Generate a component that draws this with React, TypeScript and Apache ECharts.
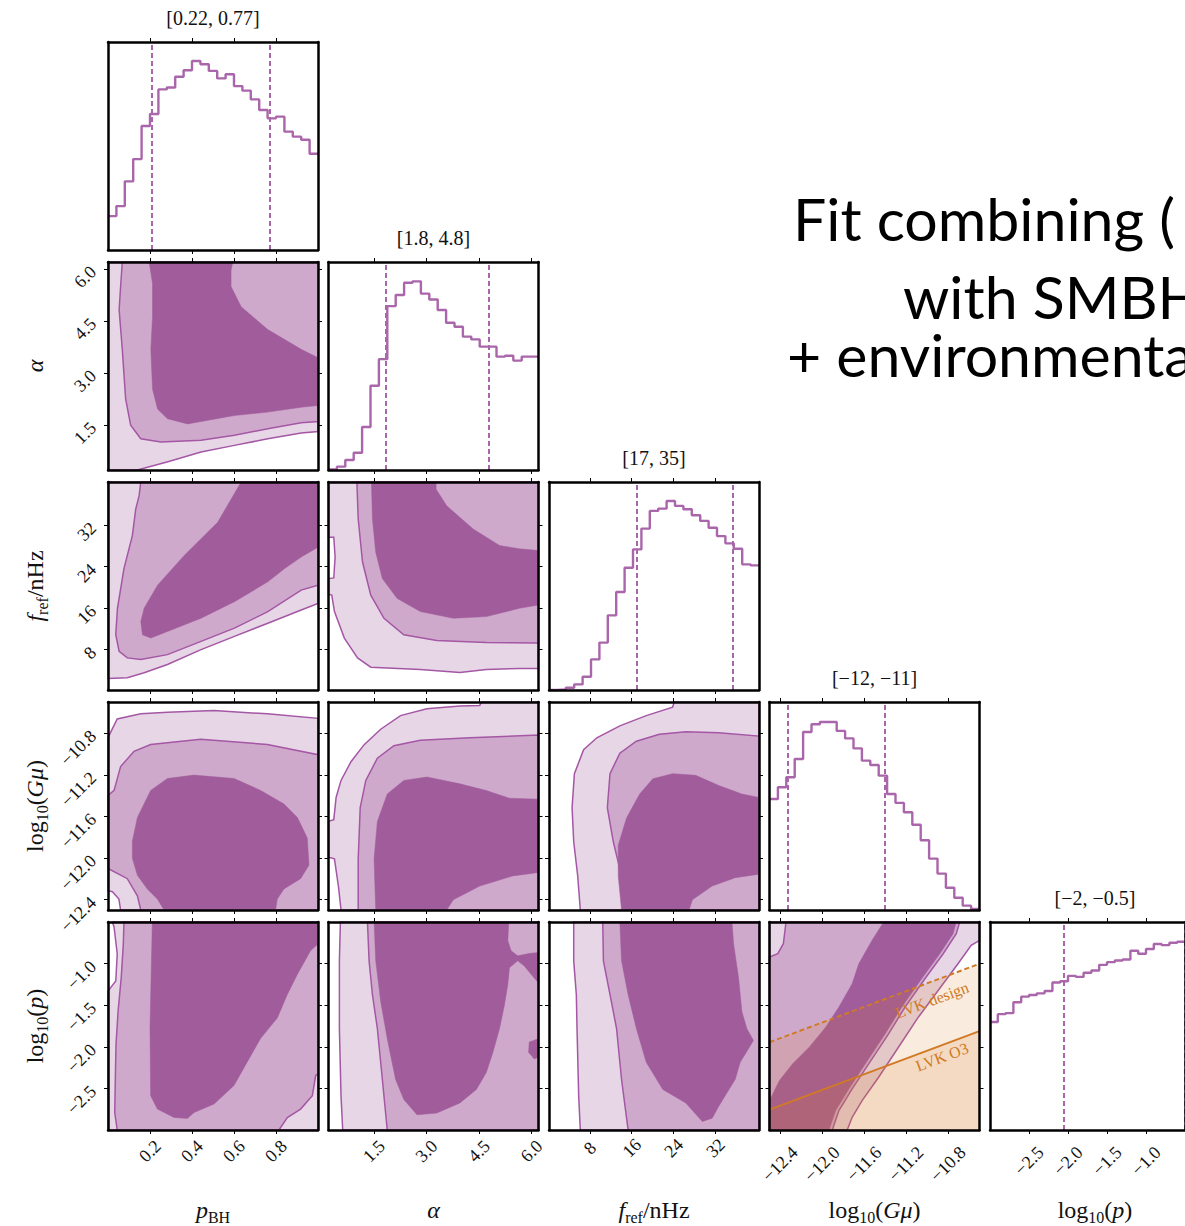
import React, { useEffect, useRef } from 'react';
import * as echarts from 'echarts';

// ---------- variables (columns / rows of the corner plot) ----------
const varMin = [0, 0.2, 0.2, -12.5, -3];
const varMax = [1, 6.2, 40.3, -10.5, -0.5];
const varTicks = [
  [0.2, 0.4, 0.6, 0.8],
  [1.5, 3.0, 4.5, 6.0],
  [8, 16, 24, 32],
  [-12.4, -12.0, -11.6, -11.2, -10.8],
  [-2.5, -2.0, -1.5, -1.0],
];
const varDecimals = [1, 1, 0, 1, 1];
const N_BINS = 25;

// ---------- 1-D marginal histograms (relative heights) ----------
const histPBH = [0.163, 0.211, 0.33, 0.437, 0.596, 0.654, 0.772, 0.781, 0.833, 0.864, 0.909, 0.893, 0.861, 0.825, 0.845, 0.788, 0.766, 0.724, 0.673, 0.633, 0.641, 0.569, 0.545, 0.53, 0.463];
const histAlpha = [0.003, 0.016, 0.048, 0.083, 0.207, 0.405, 0.533, 0.788, 0.841, 0.9, 0.907, 0.848, 0.82, 0.769, 0.708, 0.689, 0.641, 0.628, 0.593, 0.593, 0.545, 0.549, 0.526, 0.545, 0.545];
const histFref = [0, 0.003, 0.011, 0.027, 0.064, 0.147, 0.228, 0.359, 0.471, 0.588, 0.676, 0.776, 0.861, 0.872, 0.909, 0.885, 0.869, 0.84, 0.813, 0.78, 0.74, 0.705, 0.679, 0.604, 0.599];
const histGmu = [0.534, 0.59, 0.638, 0.726, 0.856, 0.893, 0.904, 0.904, 0.861, 0.825, 0.777, 0.718, 0.697, 0.646, 0.558, 0.515, 0.47, 0.41, 0.335, 0.247, 0.175, 0.107, 0.059, 0.021, 0.005];
const histLogp = [0.519, 0.557, 0.562, 0.614, 0.641, 0.649, 0.657, 0.668, 0.709, 0.715, 0.741, 0.736, 0.756, 0.767, 0.794, 0.807, 0.815, 0.82, 0.862, 0.847, 0.87, 0.894, 0.889, 0.9, 0.905];
const hists = [histPBH, histAlpha, histFref, histGmu, histLogp];

const quantiles = [[0.215, 0.765], [1.84, 4.78], [16.9, 35.2], [-12.33, -11.4], [-2.06, -0.5]];
const histTitles = ['[0.22, 0.77]', '[1.8, 4.8]', '[17, 35]', '[\u221212, \u221211]', '[\u22122, \u22120.5]'];

// ---------- 2-D credible regions (polygons in data units: [x, y]) ----------
// row 1 (alpha) vs col 0 (pBH)
const c10Light = [[0.14, 0.2], [0.285, 0.44], [0.443, 0.72], [0.602, 0.91], [0.761, 1.1], [0.92, 1.27], [1, 1.31], [1, 6.2], [0, 6.2], [0, 0.2]];
const c10Mid = [[0.068, 6.2], [0.061, 5.58], [0.053, 4.82], [0.068, 3.68], [0.084, 2.25], [0.108, 1.49], [0.156, 1.1], [0.252, 1.01], [0.443, 1.06], [0.602, 1.2], [0.761, 1.39], [0.92, 1.56], [1, 1.6], [1, 6.2]];
const c10Dark = [[0.196, 6.2], [0.212, 5.58], [0.212, 4.63], [0.204, 3.68], [0.212, 2.53], [0.236, 1.96], [0.283, 1.68], [0.379, 1.53], [0.602, 1.77], [0.761, 1.87], [0.92, 2.01], [1, 2.06], [1, 3.44], [0.92, 3.68], [0.761, 4.25], [0.634, 4.91], [0.586, 5.49], [0.586, 5.96], [0.594, 6.2]];
// row 2 (f_ref) vs col 0 (pBH)
const c20Light = [[0, 2.43], [0.092, 2.56], [0.172, 3.52], [0.283, 5.11], [0.443, 7.98], [0.602, 10.53], [0.761, 13.08], [0.92, 15.63], [1, 16.9], [1, 40.3], [0, 40.3]];
const c20Mid = [[0.156, 40.3], [0.148, 37.62], [0.132, 35.07], [0.116, 29.97], [0.076, 23.6], [0.045, 15.95], [0.037, 10.85], [0.053, 7.66], [0.092, 6.39], [0.156, 6.07], [0.283, 7.02], [0.443, 9.57], [0.602, 12.12], [0.761, 15.31], [0.92, 19.45], [1, 20.41], [1, 40.3]];
const c20Dark = [[0.634, 40.3], [1, 40.3], [1, 27.74], [0.92, 25.83], [0.841, 23.6], [0.761, 21.05], [0.602, 17.22], [0.443, 14.03], [0.283, 11.48], [0.204, 10.21], [0.164, 10.85], [0.156, 13.4], [0.172, 15.95], [0.236, 20.41], [0.363, 26.15], [0.522, 32.52]];
// row 3 (log Gmu) vs col 0 (pBH)
const c30Light = [[0, -10.843], [0.044, -10.663], [0.156, -10.614], [0.283, -10.598], [0.505, -10.582], [0.759, -10.614], [1, -10.657], [1, -12.5], [0.06, -12.5], [0.052, -12.395], [0.021, -12.324], [0, -12.314]];
const c30Mid = [[0, -11.399], [0.029, -11.35], [0.06, -11.121], [0.124, -10.974], [0.203, -10.908], [0.441, -10.859], [0.759, -10.908], [1, -11.007], [1, -12.5], [0.156, -12.5], [0.14, -12.363], [0.092, -12.199], [0, -12.101]];
const c30Dark = [[0.203, -11.35], [0.283, -11.235], [0.41, -11.203], [0.6, -11.235], [0.727, -11.35], [0.838, -11.48], [0.902, -11.611], [0.949, -11.807], [0.957, -12.069], [0.917, -12.199], [0.838, -12.297], [0.806, -12.395], [0.798, -12.5], [0.267, -12.5], [0.235, -12.395], [0.187, -12.297], [0.14, -12.167], [0.116, -12.003], [0.116, -11.84], [0.14, -11.611]];
// row 4 (log p) vs col 0 (pBH)
const c40Light = [[0, -1.331], [0.037, -1.209], [0.044, -0.885], [0.029, -0.561], [0.021, -0.5], [1, -0.5], [1, -3], [0, -3]];
const c40Mid = [[0.076, -0.5], [0.073, -0.763], [0.063, -1.169], [0.048, -1.574], [0.038, -1.979], [0.035, -2.384], [0.032, -2.79], [0.044, -3], [0.814, -3], [0.854, -2.85], [0.917, -2.749], [0.973, -2.587], [0.989, -2.344], [1, -2.323], [1, -0.5]];
const c40Dark = [[0.211, -0.5], [0.2, -1.776], [0.203, -2.587], [0.235, -2.749], [0.314, -2.85], [0.378, -2.862], [0.41, -2.79], [0.505, -2.688], [0.6, -2.465], [0.663, -2.182], [0.727, -1.898], [0.806, -1.655], [0.854, -1.371], [0.902, -1.128], [0.965, -0.844], [1, -0.763], [1, -0.5]];
// row 2 (f_ref) vs col 1 (alpha)
const c21Light = [[0.2, 40.3], [6.2, 40.3], [6.2, 4.35], [5.653, 4.35], [4.709, 4.15], [3.955, 3.58], [2.823, 4.15], [1.408, 4.6], [1.03, 6.38], [0.653, 10.21], [0.37, 15.31], [0.294, 18.49], [0.2, 18.62], [0.2, 21.68], [0.351, 21.81], [0.389, 25.83], [0.351, 29.65], [0.2, 29.65]];
const c21Mid = [[1.011, 40.3], [1.049, 33.16], [1.172, 24.87], [1.408, 18.49], [1.785, 14.03], [2.351, 10.85], [3.294, 9.76], [4.709, 9.38], [6.2, 9.25], [6.2, 40.3]];
const c21Dark = [[1.427, 40.3], [1.455, 33.16], [1.549, 26.78], [1.738, 21.68], [2.162, 17.86], [2.823, 15.31], [3.766, 14.03], [4.709, 14.35], [5.653, 15.95], [6.2, 16.59], [6.2, 27.1], [5.653, 27.42], [5.087, 28.06], [4.332, 31.25], [3.577, 35.71], [3.275, 38.9], [3.275, 40.3]];
// row 3 (log Gmu) vs col 1 (alpha)
const c31Light = [[0.558, -12.5], [0.483, -12.27], [0.37, -12.008], [0.2, -11.992], [0.2, -11.648], [0.351, -11.631], [0.417, -11.418], [0.558, -11.254], [0.842, -11.074], [1.219, -10.91], [1.691, -10.762], [2.257, -10.631], [3.011, -10.566], [3.955, -10.539], [4.521, -10.533], [4.568, -10.5], [6.2, -10.5], [6.2, -12.5]];
const c31Mid = [[1.049, -12.5], [1.049, -12.008], [1.106, -11.516], [1.266, -11.254], [1.596, -11.041], [2.068, -10.92], [2.823, -10.867], [4.238, -10.844], [6.2, -10.818], [6.2, -12.5]];
const c31Dark = [[1.549, -12.5], [1.502, -12.008], [1.596, -11.648], [1.879, -11.385], [2.351, -11.254], [3.011, -11.221], [3.955, -11.287], [4.709, -11.352], [5.37, -11.425], [6.2, -11.434], [6.2, -12.139], [5.464, -12.172], [4.521, -12.27], [3.766, -12.402], [3.577, -12.5]];
// row 4 (log p) vs col 1 (alpha)
const c41Light = [[0.54, -0.5], [0.511, -0.967], [0.511, -1.78], [0.558, -2.593], [0.606, -3], [6.2, -3], [6.2, -0.5]];
const c41Mid = [[1.313, -0.5], [1.36, -0.967], [1.455, -1.374], [1.596, -1.78], [1.738, -2.39], [1.879, -3], [6.2, -3], [6.2, -0.5]];
const c41Dark = [[1.502, -0.5], [5.351, -0.5], [5.323, -0.724], [5.417, -0.846], [5.606, -0.907], [5.936, -0.878], [6.2, -0.866], [6.2, -1.232], [6.03, -1.15], [5.794, -1.028], [5.606, -0.967], [5.37, -1.049], [5.323, -1.252], [5.228, -1.496], [5.087, -1.78], [4.898, -2.065], [4.709, -2.309], [4.426, -2.512], [3.955, -2.675], [3.294, -2.797], [2.728, -2.817], [2.351, -2.634], [2.115, -2.39], [1.879, -1.902], [1.691, -1.455], [1.549, -0.967]];
const c41DarkPatch = [[6.2, -1.902], [5.936, -1.943], [5.917, -2.065], [6.077, -2.146], [6.2, -2.126]];
// row 3 (log Gmu) vs col 2 (f_ref)
const c32Light = [[6.18, -12.5], [5.68, -12.172], [4.92, -11.844], [4.61, -11.516], [5.05, -11.189], [6.81, -10.959], [9.33, -10.844], [13.73, -10.73], [18.77, -10.631], [23.81, -10.549], [24.12, -10.5], [40.3, -10.5], [40.3, -12.5]];
const c32Mid = [[15.31, -12.5], [14.05, -12.172], [12.48, -11.844], [11.34, -11.516], [11.85, -11.189], [13.73, -10.992], [16.88, -10.877], [21.29, -10.811], [26.32, -10.787], [32.62, -10.795], [40.3, -10.828], [40.3, -12.5]];
const c32Dark = [[14.05, -12.5], [13.42, -12.172], [13.42, -11.877], [15.0, -11.615], [17.51, -11.385], [20.03, -11.238], [23.81, -11.189], [28.21, -11.205], [32.62, -11.303], [37.03, -11.385], [40.3, -11.418], [40.3, -12.156], [35.77, -12.189], [31.36, -12.27], [27.58, -12.402], [26.95, -12.5]];
// row 4 (log p) vs col 2 (f_ref)
const c42Light = [[4.92, -0.5], [4.92, -0.967], [5.42, -1.374], [5.55, -1.78], [5.87, -2.593], [6.18, -3], [40.3, -3], [40.3, -0.5]];
const c42Mid = [[10.46, -0.5], [10.59, -0.967], [11.85, -1.374], [13.1, -1.78], [14.05, -2.39], [15.31, -3], [40.3, -3], [40.3, -0.5]];
const c42Dark = [[13.73, -0.5], [14.05, -0.967], [15.31, -1.374], [16.88, -1.78], [18.77, -2.187], [21.92, -2.512], [26.32, -2.675], [29.47, -2.898], [31.36, -2.858], [32.62, -2.715], [35.77, -2.39], [36.71, -2.187], [38.29, -2.024], [39.23, -1.923], [37.97, -1.78], [37.03, -1.577], [36.4, -1.171], [35.45, -0.764], [35.14, -0.5]];
// row 4 (log p) vs col 3 (log Gmu)
const c43Light = [[-12.5, -0.5], [-10.5, -0.5], [-10.5, -0.721], [-10.579, -0.781], [-10.705, -1.002], [-10.894, -1.323], [-11.083, -1.644], [-11.272, -2.005], [-11.461, -2.366], [-11.618, -2.647], [-11.713, -2.847], [-11.76, -3], [-12.5, -3]];
const c43Mid = [[-12.343, -0.5], [-10.689, -0.5], [-10.721, -0.64], [-10.846, -0.881], [-11.02, -1.182], [-11.209, -1.523], [-11.366, -1.844], [-11.555, -2.205], [-11.713, -2.506], [-11.839, -2.767], [-11.902, -3], [-12.5, -3], [-12.5, -0.921], [-12.421, -0.881], [-12.368, -0.761]];
const c43Dark = [[-11.413, -0.5], [-10.721, -0.5], [-10.752, -0.64], [-10.878, -0.881], [-11.051, -1.182], [-11.24, -1.523], [-11.398, -1.844], [-11.587, -2.205], [-11.744, -2.506], [-11.87, -2.767], [-11.933, -3], [-12.5, -3], [-12.5, -2.647], [-12.406, -2.406], [-12.28, -2.205], [-12.122, -2.005], [-11.965, -1.764], [-11.839, -1.523], [-11.713, -1.242], [-11.65, -1.002], [-11.524, -0.721]];

// LVK sensitivity lines (log Gmu, log p)
const lvkDesign = [[-12.5, -1.945], [-10.5, -1.002]];
const lvkO3 = [[-12.5, -2.755], [-10.5, -1.812]];

// ---------- styling ----------
const SERIF = '"Liberation Serif", "DejaVu Serif", serif';
const LIGHT = '#e7d6e6';
const MID = '#cfa9cc';
const DARK = '#a05c9b';
const CLINE = '#a457a4';
const HLINE = '#aa66aa';
const ORANGE = '#d07a25';

const LEFT0 = 108, TOP0 = 42, DX = 220.5, DY = 220, PW = 210, PH = 208;
const xLabelMargin = [21, 21, 18, 34, 31];

const fmt = (v: number, d: number) => (v < 0 ? '\u2212' : '') + Math.abs(v).toFixed(d);

function buildOption() {
  const grid: any[] = [];
  const xAxis: any[] = [];
  const yAxis: any[] = [];
  const series: any[] = [];
  const gridIdx: Record<string, number> = {};

  const contours: Record<string, any[][]> = {
    '1,0': [c10Light, c10Mid, c10Dark],
    '2,0': [c20Light, c20Mid, c20Dark],
    '3,0': [c30Light, c30Mid, c30Dark],
    '4,0': [c40Light, c40Mid, c40Dark],
    '2,1': [c21Light, c21Mid, c21Dark],
    '3,1': [c31Light, c31Mid, c31Dark],
    '4,1': [c41Light, c41Mid, c41Dark, c41DarkPatch],
    '3,2': [c32Light, c32Mid, c32Dark],
    '4,2': [c42Light, c42Mid, c42Dark],
    '4,3': [c43Light, c43Mid, c43Dark],
  };

  let k = 0;
  for (let r = 0; r < 5; r++) {
    for (let c = 0; c <= r; c++) {
      gridIdx[r + ',' + c] = k;
      grid.push({ left: LEFT0 + DX * c, top: TOP0 + DY * r, width: PW, height: PH, containLabel: false });
      const axisLine = { show: true, onZero: false, lineStyle: { color: '#000', width: 2.5 } };
      const tickStyle = { color: '#000', width: 1 };
      for (const pos of ['bottom', 'top']) {
        xAxis.push({
          type: 'value', gridIndex: k, position: pos, min: varMin[c], max: varMax[c], z: 10,
          axisLine,
          axisTick: { show: true, inside: false, length: 4, customValues: varTicks[c], lineStyle: tickStyle },
          axisLabel: {
            show: pos === 'bottom' && r === 4, customValues: varTicks[c], rotate: 45,
            align: 'center', verticalAlign: 'middle', margin: xLabelMargin[c],
            formatter: (v: number) => fmt(v, varDecimals[c]),
            fontFamily: SERIF, fontSize: 18, color: '#111',
          },
          splitLine: { show: false },
        });
      }
      for (const pos of ['left', 'right']) {
        if (r === c) {
          yAxis.push({
            type: 'value', gridIndex: k, position: pos, min: 0, max: 1, z: 10,
            axisLine, axisTick: { show: false }, axisLabel: { show: false }, splitLine: { show: false },
          });
        } else {
          yAxis.push({
            type: 'value', gridIndex: k, position: pos, min: varMin[r], max: varMax[r], z: 10,
            axisLine,
            axisTick: { show: true, inside: false, length: 4, customValues: varTicks[r], lineStyle: tickStyle },
            axisLabel: {
              show: pos === 'left' && c === 0, customValues: varTicks[r], rotate: 45, margin: 15,
              formatter: (v: number) => fmt(v, varDecimals[r]),
              fontFamily: SERIF, fontSize: 18, color: '#111',
            },
            splitLine: { show: false },
          });
        }
      }

      if (r === c) {
        const h = hists[c];
        const step = (varMax[c] - varMin[c]) / N_BINS;
        const data: number[][] = h.map((v, i) => [varMin[c] + i * step, v]);
        data.push([varMax[c], h[h.length - 1]]);
        series.push({
          type: 'line', xAxisIndex: 2 * k, yAxisIndex: 2 * k, data, step: 'end', symbol: 'none',
          lineStyle: { color: HLINE, width: 2.4 }, silent: true,
          markLine: {
            symbol: ['none', 'none'], silent: true, label: { show: false },
            lineStyle: { color: HLINE, width: 2, type: [5, 3] },
            data: quantiles[c].map((q) => ({ xAxis: q })),
          },
        });
      } else {
        const polys = contours[r + ',' + c];
        const fills = [LIGHT, MID, DARK, DARK];
        const strokes = [CLINE, CLINE, null, null];
        polys.forEach((pts, i) => {
          const fill = fills[i];
          const stroke = strokes[i];
          series.push({
            type: 'custom', xAxisIndex: 2 * k, yAxisIndex: 2 * k, data: pts, silent: true,
            renderItem: (params: any, api: any) => {
              if (params.dataIndex !== 0) return { type: 'group', children: [] };
              const points = pts.map((p) => api.coord(p));
              return {
                type: 'polygon', shape: { points },
                style: stroke ? { fill, stroke, lineWidth: 1.5 } : { fill, stroke: fill, lineWidth: 0.5 },
              };
            },
          });
        });
      }
      k++;
    }
  }

  const kl = gridIdx['4,3'];
  series.push({
    type: 'line', xAxisIndex: 2 * kl, yAxisIndex: 2 * kl, data: lvkDesign, symbol: 'none', silent: true,
    lineStyle: { color: ORANGE, width: 2, type: [5, 3] },
    areaStyle: { color: 'rgba(214,125,40,0.22)', origin: 'start' },
  });
  series.push({
    type: 'line', xAxisIndex: 2 * kl, yAxisIndex: 2 * kl, data: lvkO3, symbol: 'none', silent: true,
    lineStyle: { color: ORANGE, width: 2 },
    areaStyle: { color: 'rgba(214,125,40,0.22)', origin: 'start' },
  });

  const rich = {
    i: { fontFamily: SERIF, fontStyle: 'italic', fontSize: 24, lineHeight: 30, fill: '#111' },
    n: { fontFamily: SERIF, fontSize: 24, lineHeight: 30, fill: '#111' },
    s: { fontFamily: SERIF, fontSize: 16, lineHeight: 16, verticalAlign: 'bottom', fill: '#111' },
  };
  const names = [
    '{i|p}{s|BH}',
    '{i|\u03b1}',
    '{i|f}{s|ref}{n|/nHz}',
    '{n|log}{s|10}{n|(}{i|G\u03bc}{n|)}',
    '{n|log}{s|10}{n|(}{i|p}{n|)}',
  ];

  const graphic: any[] = [];
  for (let c = 0; c < 5; c++) {
    const cx = LEFT0 + DX * c + PW / 2;
    graphic.push({
      type: 'text', x: cx, y: TOP0 + DY * c - 24, silent: true,
      style: { text: histTitles[c], fontFamily: SERIF, fontSize: 20, fill: '#111', align: 'center', verticalAlign: 'middle' },
    });
    graphic.push({
      type: 'text', x: cx, y: 1210, silent: true,
      style: { text: names[c], rich, align: 'center', verticalAlign: 'middle' },
    });
  }
  for (let r = 1; r < 5; r++) {
    const cy = TOP0 + DY * r + PH / 2;
    graphic.push({
      type: 'text', x: 35, y: cy, rotation: Math.PI / 2, silent: true,
      style: { text: names[r], rich, align: 'center', verticalAlign: 'middle' },
    });
  }
  graphic.push({
    type: 'text', x: 932, y: 1000, rotation: 0.358, silent: true, z: 100,
    style: { text: 'LVK design', fontFamily: SERIF, fontSize: 16, fill: ORANGE, align: 'center', verticalAlign: 'middle' },
  });
  graphic.push({
    type: 'text', x: 942, y: 1057, rotation: 0.358, silent: true, z: 100,
    style: { text: 'LVK O3', fontFamily: SERIF, fontSize: 16, fill: ORANGE, align: 'center', verticalAlign: 'middle' },
  });
  const slideFont = { fontFamily: 'Lato, "Open Sans", sans-serif', fontSize: 59, lineHeight: 52, fill: '#000', align: 'left', verticalAlign: 'middle' };
  graphic.push({ type: 'text', x: 793, y: 218, silent: true, style: { ...slideFont, text: 'Fit combining (' } });
  graphic.push({ type: 'text', x: 903, y: 296, silent: true, style: { ...slideFont, text: 'with SMBH' } });
  graphic.push({ type: 'text', x: 787, y: 354, silent: true, style: { ...slideFont, text: '+ environmental' } });

  return {
    animation: false,
    backgroundColor: '#fff',
    grid, xAxis, yAxis, series, graphic,
  };
}

export default function App() {
  const ref = useRef<HTMLDivElement>(null);
  useEffect(() => {
    document.body.style.margin = '0';
    document.body.style.overflow = 'hidden';
    const chart = echarts.init(ref.current as HTMLDivElement, null, { renderer: 'svg' });
    chart.setOption(buildOption() as any);
    return () => chart.dispose();
  }, []);
  return <div ref={ref} style={{ width: 1185, height: 1226, overflow: 'hidden' }} />;
}
